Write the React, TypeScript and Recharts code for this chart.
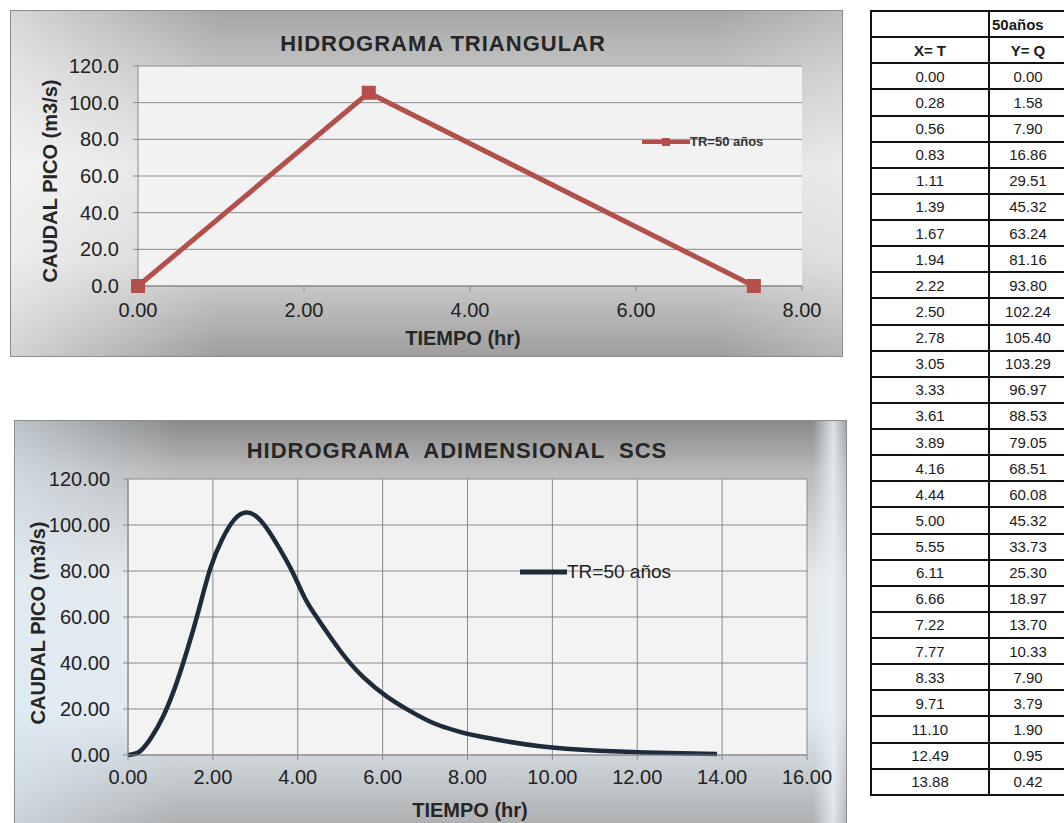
import React from 'react';
import { LineChart, Line, XAxis, YAxis, CartesianGrid, Legend } from 'recharts';

// Hidrograma triangular: (0,0) -> pico en Tp -> base Tb
const TRI_TIME = [0, 2.78, 7.42];
const TRI_Q = [0, 105.4, 0];

// Hidrograma adimensional SCS, TR = 50 años (valores de la tabla)
const SCS_TIME = [
  0.0, 0.28, 0.56, 0.83, 1.11, 1.39, 1.67, 1.94, 2.22, 2.5, 2.78, 3.05, 3.33, 3.61,
  3.89, 4.16, 4.44, 5.0, 5.55, 6.11, 6.66, 7.22, 7.77, 8.33, 9.71, 11.1, 12.49, 13.88,
];
const SCS_Q = [
  0.0, 1.58, 7.9, 16.86, 29.51, 45.32, 63.24, 81.16, 93.8, 102.24, 105.4, 103.29, 96.97, 88.53,
  79.05, 68.51, 60.08, 45.32, 33.73, 25.3, 18.97, 13.7, 10.33, 7.9, 3.79, 1.9, 0.95, 0.42,
];

const TRI_X_TICKS = [0, 2, 4, 6, 8];
const TRI_Y_TICKS = [0, 20, 40, 60, 80, 100, 120];
const SCS_X_TICKS = [0, 2, 4, 6, 8, 10, 12, 14, 16];
const SCS_Y_TICKS = [0, 20, 40, 60, 80, 100, 120];

const SERIES_NAME = 'TR=50 años';
const TABLE_HEAD = ['50años', 'X= T', 'Y= Q'];

const triData = TRI_TIME.map((t, i) => ({ t, q: TRI_Q[i] }));
const scsData = SCS_TIME.map((t, i) => ({ t, q: SCS_Q[i] }));

const FONT = '"Liberation Sans", Arial, sans-serif';
const RED = '#b3504c';
const NAVY = '#1d2b3c';
const GRID = '#8a8a8a';
const tickStyle = { fontSize: 20, fill: '#222', fontFamily: FONT };

// marcador cuadrado del hidrograma triangular
const SquareDot = (props: any) => {
  const { cx, cy, index } = props;
  if (cx == null || cy == null) return null;
  return <rect key={'sq' + index} x={cx - 7} y={cy - 7} width={14} height={14} fill="#b54f4c" />;
};

const TriLegend = ({ payload }: any) => {
  const item = payload && payload[0];
  return (
    <div style={{ display: 'flex', alignItems: 'center' }}>
      <svg width={48} height={10}>
        <line x1={0} y1={5} x2={48} y2={5} stroke={RED} strokeWidth={4} />
        <rect x={20} y={1} width={8} height={8} fill="#b54f4c" />
      </svg>
      <span style={{ font: `bold 13px ${FONT}`, color: '#333' }}>{item ? item.value : SERIES_NAME}</span>
    </div>
  );
};

const ScsLegend = ({ payload }: any) => {
  const item = payload && payload[0];
  return (
    <div style={{ display: 'flex', alignItems: 'center' }}>
      <svg width={47} height={10}>
        <line x1={0} y1={5} x2={47} y2={5} stroke={NAVY} strokeWidth={5} />
      </svg>
      <span style={{ font: `19px ${FONT}`, color: '#222' }}>{item ? item.value : SERIES_NAME}</span>
    </div>
  );
};

const abs = (extra: React.CSSProperties): React.CSSProperties => ({ position: 'absolute', ...extra });

const rotLabel = (text: string, cx: number, cy: number): React.ReactNode => (
  <div
    style={abs({
      left: cx - 150,
      top: cy - 12,
      width: 300,
      height: 24,
      lineHeight: '24px',
      textAlign: 'center',
      transform: 'rotate(-90deg)',
      font: `bold 20px ${FONT}`,
      color: '#262626',
      whiteSpace: 'pre',
    })}
  >
    {text}
  </div>
);

const centerText = (text: string, cx: number, cy: number, size: number, spacing = 0): React.ReactNode => (
  <div
    style={abs({
      left: cx - 300,
      top: cy - size * 0.6,
      width: 600,
      lineHeight: `${size * 1.2}px`,
      textAlign: 'center',
      font: `bold ${size}px ${FONT}`,
      letterSpacing: spacing,
      color: '#262626',
      whiteSpace: 'pre',
    })}
  >
    {text}
  </div>
);

function TriangularChart() {
  return (
    <div
      style={abs({
        left: 10,
        top: 10,
        width: 833,
        height: 347,
        boxSizing: 'border-box',
        border: '1px solid #8c8c8c',
        background:
          'linear-gradient(to right, rgba(255,255,255,0.55) 0%, rgba(255,255,255,0) 25%, rgba(255,255,255,0) 85%, rgba(255,255,255,0.25) 100%), linear-gradient(to bottom, #a6a6a6 0%, #c4c4c4 18%, #e4e4e4 45%, #d6d6d6 72%, #9e9e9e 100%)',
      })}
    >
      <div style={abs({ left: -1, top: -1 })}>
        <LineChart width={833} height={347} data={triData} margin={{ top: 56, right: 41, left: 58, bottom: 31 }}>
          <CartesianGrid vertical={false} stroke={GRID} fill="#f2f2f2" fillOpacity={1} />
          <XAxis
            dataKey="t"
            type="number"
            domain={[0, 8]}
            ticks={TRI_X_TICKS}
            tickFormatter={(v: number) => v.toFixed(2)}
            height={40}
            axisLine={{ stroke: GRID }}
            tickLine={{ stroke: GRID }}
            tickSize={5}
            tickMargin={12}
            tick={tickStyle}
          />
          <YAxis
            type="number"
            domain={[0, 120]}
            ticks={TRI_Y_TICKS}
            tickFormatter={(v: number) => v.toFixed(1)}
            width={70}
            axisLine={{ stroke: GRID }}
            tickLine={{ stroke: GRID }}
            tickSize={5}
            tickMargin={14}
            tick={tickStyle}
          />
          <Legend
            layout="horizontal"
            align="center"
            verticalAlign="middle"
            content={TriLegend}
            wrapperStyle={{ left: 632, top: 124, width: 'auto', height: 'auto' }}
          />
          <Line
            type="linear"
            dataKey="q"
            name={SERIES_NAME}
            stroke={RED}
            strokeWidth={5}
            dot={SquareDot}
            activeDot={false}
            isAnimationActive={false}
          />
        </LineChart>
      </div>
      {centerText('HIDROGRAMA TRIANGULAR', 432, 33, 22, 1)}
      {rotLabel('CAUDAL PICO (m3/s)', 40, 170)}
      {centerText('TIEMPO (hr)', 452, 328, 20)}
    </div>
  );
}

function ScsChart() {
  return (
    <div
      style={abs({
        left: 14,
        top: 420,
        width: 833,
        height: 420,
        boxSizing: 'border-box',
        border: '1px solid #8c8c8c',
        background:
          'linear-gradient(to right, rgba(220,235,245,0.6) 0%, rgba(255,255,255,0) 20%, rgba(255,255,255,0) 96%, rgba(230,240,246,0.85) 98.5%, rgba(200,200,200,0.4) 100%), linear-gradient(to bottom, #8a8a8a 0%, #b9b9b9 12%, #e6eaed 38%, #e2eaf0 70%, #c3c9cd 86%, #a6a6a6 100%)',
      })}
    >
      <div style={abs({ left: -1, top: -1 })}>
        <LineChart width={833} height={420} data={scsData} margin={{ top: 59, right: 40, left: 39, bottom: 45 }}>
          <CartesianGrid stroke={GRID} fill="#f3f3f3" fillOpacity={1} />
          <XAxis
            dataKey="t"
            type="number"
            domain={[0, 16]}
            ticks={SCS_X_TICKS}
            tickFormatter={(v: number) => v.toFixed(2)}
            height={40}
            axisLine={{ stroke: GRID }}
            tickLine={{ stroke: GRID }}
            tickSize={5}
            tickMargin={10}
            tick={tickStyle}
          />
          <YAxis
            type="number"
            domain={[0, 120]}
            ticks={SCS_Y_TICKS}
            tickFormatter={(v: number) => v.toFixed(2)}
            width={75}
            axisLine={{ stroke: GRID }}
            tickLine={{ stroke: GRID }}
            tickSize={5}
            tickMargin={13}
            tick={tickStyle}
          />
          <Legend
            layout="horizontal"
            align="center"
            verticalAlign="middle"
            content={ScsLegend}
            wrapperStyle={{ left: 506, top: 141, width: 'auto', height: 'auto' }}
          />
          <Line
            type="natural"
            dataKey="q"
            name={SERIES_NAME}
            stroke={NAVY}
            strokeWidth={4.5}
            dot={false}
            activeDot={false}
            isAnimationActive={false}
          />
        </LineChart>
      </div>
      {centerText('HIDROGRAMA  ADIMENSIONAL  SCS', 442, 30, 22, 1)}
      {rotLabel('CAUDAL PICO (m3/s)', 24, 202)}
      {centerText('TIEMPO (hr)', 455, 390, 20)}
    </div>
  );
}

function DataTable() {
  const cell: React.CSSProperties = {
    border: '2px solid #111',
    padding: 0,
    textAlign: 'center',
    font: `15px ${FONT}`,
    color: '#1a1a1a',
  };
  const head: React.CSSProperties = { ...cell, fontWeight: 'bold' };
  const rowH = { height: 26.13 };
  return (
    <table
      style={abs({
        left: 870,
        top: 10,
        width: 196,
        borderCollapse: 'collapse',
        tableLayout: 'fixed',
        background: '#fff',
      })}
    >
      <colgroup>
        <col style={{ width: 118 }} />
        <col style={{ width: 78 }} />
      </colgroup>
      <tbody>
        <tr style={rowH}>
          <td style={cell}></td>
          <td style={{ ...head, textAlign: 'left', paddingLeft: 2 }}>{TABLE_HEAD[0]}</td>
        </tr>
        <tr style={rowH}>
          <td style={head}>{TABLE_HEAD[1]}</td>
          <td style={head}>{TABLE_HEAD[2]}</td>
        </tr>
        {SCS_TIME.map((t, i) => (
          <tr key={i} style={rowH}>
            <td style={cell}>{t.toFixed(2)}</td>
            <td style={cell}>{SCS_Q[i].toFixed(2)}</td>
          </tr>
        ))}
      </tbody>
    </table>
  );
}

export default function App() {
  return (
    <div
      style={abs({
        left: 0,
        top: 0,
        width: 1064,
        height: 823,
        overflow: 'hidden',
        background: '#fff',
        fontFamily: FONT,
      })}
    >
      <TriangularChart />
      <ScsChart />
      <DataTable />
    </div>
  );
}
